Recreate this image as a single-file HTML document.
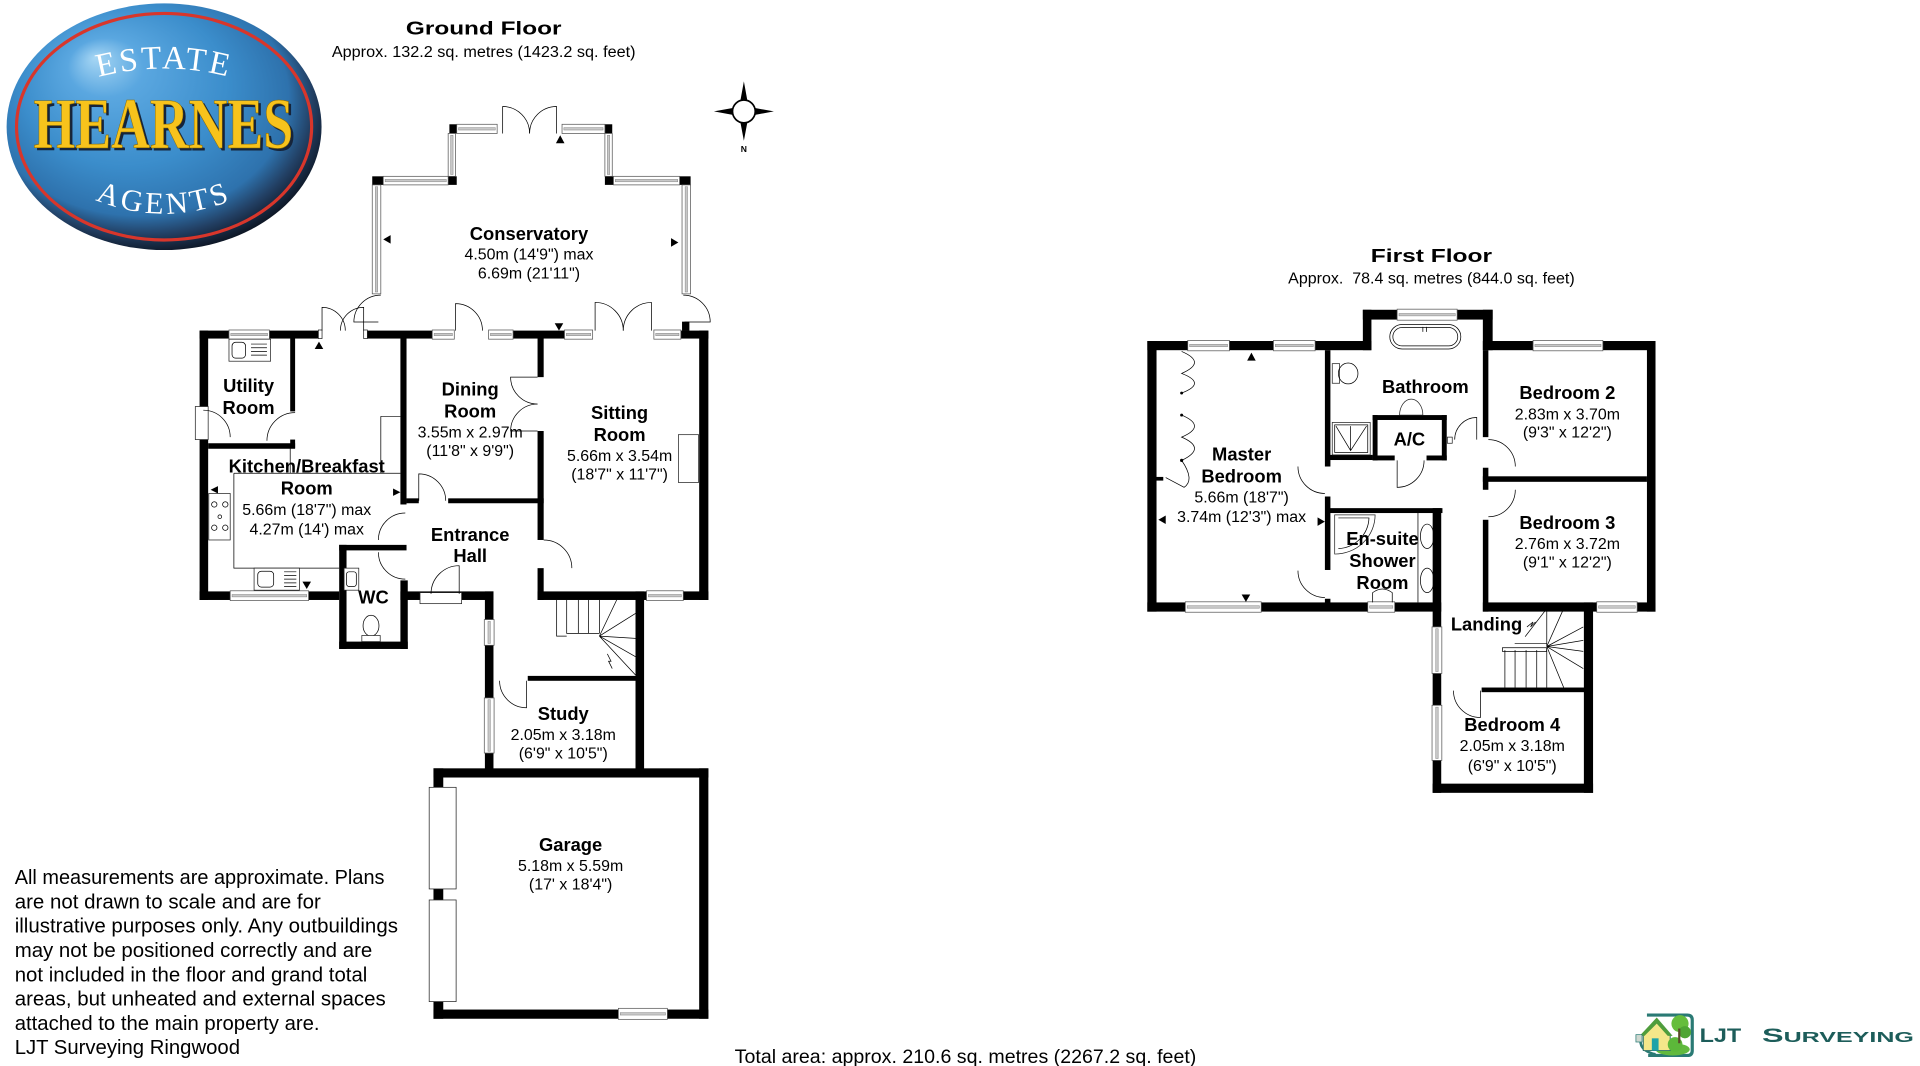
<!DOCTYPE html>
<html><head><meta charset="utf-8">
<style>
html,body{margin:0;padding:0;background:#fff;}
svg{display:block}
.wl{fill:#000}
.w{fill:#fff;stroke:#555;stroke-width:.6}
.wi{fill:#c8c8c8;stroke:#777;stroke-width:.35}
.d{fill:none;stroke:#000;stroke-width:.6}
.f{fill:#fff;stroke:#222;stroke-width:.6}
.l{font-family:"Liberation Sans",Arial,sans-serif;font-weight:bold;font-size:15px;text-anchor:middle;fill:#000}
.m{font-family:"Liberation Sans",Arial,sans-serif;font-size:13px;text-anchor:middle;fill:#000}
.t{font-family:"Liberation Sans",Arial,sans-serif;font-size:16.4px;fill:#000}
</style></head><body>
<svg width="1920" height="1066" viewBox="0 0 1568 870.6" preserveAspectRatio="none" xmlns="http://www.w3.org/2000/svg">
<defs>
<radialGradient id="gb" cx="0.45" cy="0.42" r="0.6" fx="0.28" fy="0.22">
 <stop offset="0" stop-color="#a6d6f4"/>
 <stop offset="0.2" stop-color="#5aa7e0"/>
 <stop offset="0.55" stop-color="#3b8dcb"/>
 <stop offset="0.8" stop-color="#2e72ad"/>
 <stop offset="0.9" stop-color="#223f63"/>
 <stop offset="1" stop-color="#0c1320"/>
</radialGradient>
<path id="pe" d="M70 66 A210 210 0 0 1 198 66"/>
<path id="pa" d="M70 159.5 A144 144 0 0 0 198 159.5"/>
</defs>
<rect width="1568" height="870.6" fill="#fff"/>

<!-- HEARNES LOGO -->
<ellipse cx="134" cy="103.5" rx="128.6" ry="100.7" fill="url(#gb)"/>
<ellipse cx="134" cy="103.5" rx="120.5" ry="92.5" fill="none" stroke="#d8362b" stroke-width="2.6"/>
<text font-family="'Liberation Serif',serif" font-size="27" fill="#fff" letter-spacing="2.2" text-anchor="middle"><textPath href="#pe" startOffset="50%">ESTATE</textPath></text>
<text x="135.5" y="123" font-family="'Liberation Serif',serif" font-weight="bold" font-size="59" textLength="212" lengthAdjust="spacingAndGlyphs" text-anchor="middle" fill="#16243a">HEARNES</text>
<text x="133.4" y="121" font-family="'Liberation Serif',serif" font-weight="bold" font-size="59" textLength="212" lengthAdjust="spacingAndGlyphs" text-anchor="middle" fill="#f7c31c" stroke="#8a6a00" stroke-width="0.5">HEARNES</text>
<text font-family="'Liberation Serif',serif" font-size="25" fill="#fff" letter-spacing="2.8" text-anchor="middle"><textPath href="#pa" startOffset="50%">AGENTS</textPath></text>

<!-- TITLES -->
<text x="395" y="28" class="l" font-size="19.5" textLength="127" lengthAdjust="spacingAndGlyphs">Ground Floor</text>
<text x="395" y="46.5" class="m" font-size="13.2" textLength="248" lengthAdjust="spacingAndGlyphs">Approx. 132.2 sq. metres (1423.2 sq. feet)</text>
<text x="1169" y="214" class="l" font-size="19.5" textLength="99" lengthAdjust="spacingAndGlyphs">First Floor</text>
<text x="1169" y="231.5" class="m" font-size="13.2" textLength="234" lengthAdjust="spacingAndGlyphs">Approx.&#160; 78.4 sq. metres (844.0 sq. feet)</text>

<!-- COMPASS -->
<g transform="translate(607.5,91)">
 <polygon points="0,-24.5 -3,-8 0,-9 3,-8" fill="#000"/>
 <polygon points="0,24 -3,8 0,9 3,8" fill="#000"/>
 <polygon points="24.5,0 8,-3 9,0 8,3" fill="#000"/>
 <polygon points="-24.5,0 -8,-3 -9,0 -8,3" fill="#000"/>
 <circle r="9.3" fill="#fff" stroke="#000" stroke-width="1.4"/>
</g>
<text x="607.5" y="124" font-family="'Liberation Sans',sans-serif" font-weight="bold" font-size="7" text-anchor="middle">N</text>

<!-- ===== GROUND FLOOR ===== -->
<g class="wl">
<rect x="367" y="101.5" width="6" height="7.5"/>
<rect x="494" y="101.5" width="6" height="7.5"/>
<rect x="304" y="144" width="9" height="7"/>
<rect x="366" y="144" width="7" height="7"/>
<rect x="494" y="144" width="7" height="7"/>
<rect x="555" y="144" width="9" height="7"/>
<rect x="557" y="262.7" width="6" height="7.5"/>
</g>
<rect class="w" x="373" y="101.5" width="33" height="7.5"/><rect class="wi" x="374.5" y="104.2" width="30" height="2"/>
<rect class="w" x="459" y="101.5" width="35" height="7.5"/><rect class="wi" x="460.5" y="104.2" width="32" height="2"/>
<rect class="w" x="313" y="144" width="53" height="7"/><rect class="wi" x="314.5" y="146.5" width="50" height="2"/>
<rect class="w" x="501" y="144" width="54" height="7"/><rect class="wi" x="502.5" y="146.5" width="51" height="2"/>
<rect class="w" x="366" y="109" width="6" height="35"/><rect class="wi" x="368" y="110.5" width="2" height="32"/>
<rect class="w" x="494" y="109" width="6" height="35"/><rect class="wi" x="496" y="110.5" width="2" height="32"/>
<rect class="w" x="304" y="151" width="7" height="89"/><rect class="wi" x="306.5" y="152.5" width="2" height="86"/>
<rect class="w" x="557" y="151" width="7" height="89"/><rect class="wi" x="559.5" y="152.5" width="2" height="86"/>
<path class="d" d="M410.5 109 L410.5 87 A22 22 0 0 1 432.5 109"/>
<path class="d" d="M454.5 109 L454.5 87 A22 22 0 0 0 432.5 109"/>
<path class="d" d="M311 241 A22 22 0 0 0 289 263 L309 263"/>
<path class="d" d="M558 241 A22 22 0 0 1 580 263 L559 263"/>

<g class="wl">
<rect x="163" y="270" width="97" height="6.5"/>
<rect x="300" y="270" width="53" height="6.5"/>
<rect x="419" y="270" width="42" height="6.5"/>
<rect x="556" y="270" width="22.5" height="6.5"/>
<rect x="163" y="270" width="7" height="220"/>
<rect x="163" y="483" width="114" height="7"/>
<rect x="237" y="276" width="4" height="60"/>
<rect x="170" y="362" width="71" height="4.5"/>
<rect x="237" y="359" width="4" height="7"/>
<rect x="327" y="276" width="5" height="136"/>
<rect x="277" y="445" width="55" height="4.5"/>
<rect x="277" y="445" width="6" height="85"/>
<rect x="277" y="524" width="56" height="6"/>
<rect x="327" y="474" width="6" height="56"/>
<rect x="327" y="483" width="76" height="7"/>
<rect x="396" y="483" width="7" height="150"/>
<rect x="332" y="407" width="10" height="4"/>
<rect x="366" y="407" width="78" height="4"/>
<rect x="439" y="276" width="5" height="32"/>
<rect x="439" y="352" width="5" height="89"/>
<rect x="439" y="464" width="5" height="26"/>
<rect x="571" y="270" width="7.5" height="220"/>
<rect x="439" y="483" width="139.5" height="7"/>
<rect x="519" y="483" width="7" height="150"/>
<rect x="431" y="552" width="90" height="4"/>
<rect x="354" y="627.5" width="224.5" height="7.5"/>
<rect x="354" y="627.5" width="8" height="204.5"/>
<rect x="571" y="627.5" width="7.5" height="204.5"/>
<rect x="354" y="824.5" width="224.5" height="7.5"/>
</g>
<rect class="w" x="187" y="269.5" width="33" height="7.5"/><rect class="wi" x="188.5" y="272.2" width="30" height="2"/>
<rect class="w" x="353" y="269.5" width="18" height="7.5"/><rect class="wi" x="354.5" y="272.2" width="15" height="2"/>
<rect class="w" x="399" y="269.5" width="20" height="7.5"/><rect class="wi" x="400.5" y="272.2" width="17" height="2"/>
<rect class="w" x="461" y="269.5" width="23" height="7.5"/><rect class="wi" x="462.5" y="272.2" width="20" height="2"/>
<rect class="w" x="534" y="269.5" width="22" height="7.5"/><rect class="wi" x="535.5" y="272.2" width="19" height="2"/>
<rect class="w" x="188" y="482.5" width="64" height="8"/><rect class="wi" x="189.5" y="485.5" width="61" height="2"/>
<rect class="w" x="528" y="482.5" width="30" height="8"/><rect class="wi" x="529.5" y="485.5" width="27" height="2"/>
<rect class="w" x="395.5" y="506" width="8" height="21"/><rect class="wi" x="398.5" y="507.5" width="2" height="18"/>
<rect class="w" x="395.5" y="570" width="8" height="45"/><rect class="wi" x="398.5" y="571.5" width="2" height="42"/>
<rect class="w" x="505" y="823.5" width="40" height="9"/><rect class="wi" x="506.5" y="827" width="37" height="2"/>
<rect class="f" x="350.5" y="643" width="22" height="83"/>
<rect class="f" x="350.5" y="735" width="22" height="83"/>
<rect class="f" x="343" y="484" width="34" height="9"/>
<rect class="f" x="159.5" y="332" width="10.5" height="27"/>
<rect class="f" x="260" y="269.5" width="3" height="7"/>
<rect class="f" x="297" y="269.5" width="3" height="7"/>
<rect class="f" x="554" y="355" width="16.5" height="39"/>

<path class="d" d="M263 270 L263 251 A19 19 0 0 1 282 270"/>
<path class="d" d="M297 270 L297 251 A19 19 0 0 0 278 270"/>
<path class="d" d="M372 270 L372 248 A22 22 0 0 1 394 270"/>
<path class="d" d="M486 270 L486 247 A23 23 0 0 1 509 270"/>
<path class="d" d="M532 270 L532 247 A23 23 0 0 0 509 270"/>
<path class="d" d="M166 335 A22 22 0 0 1 188 357"/>
<path class="d" d="M241 337 A23 23 0 0 0 218 360"/>
<path class="d" d="M331 419 A22 22 0 0 0 309 441"/>
<path class="d" d="M309 451 A22 22 0 0 0 331 473"/>
<path class="d" d="M342 409 L342 387 A22 22 0 0 1 364 409"/>
<path class="d" d="M439 308 L417 308 A22 22 0 0 0 439 330"/>
<path class="d" d="M439 352 L417 352 A22 22 0 0 1 439 330"/>
<path class="d" d="M444 441 A23 23 0 0 1 467 464"/>
<path class="d" d="M375 485 L375 462 A23 23 0 0 0 352 485"/>
<path class="d" d="M408 556 A22 22 0 0 0 430 578 L430 556"/>

<path class="d" d="M191 386.5 V464 H277"/>
<path class="d" d="M191 386.5 H327"/>
<path class="d" d="M237 366 V386.5"/>
<path class="d" d="M311 340 V386.5 M311 340 H327"/>
<rect class="f" x="170.5" y="403" width="17.5" height="38"/>
<g class="d"><circle cx="175" cy="412" r="2.2"/><circle cx="184" cy="412" r="2.2"/><circle cx="179.5" cy="422" r="1.5"/><circle cx="175" cy="431" r="2.2"/><circle cx="184" cy="431" r="2.2"/></g>
<rect class="f" x="207.5" y="464" width="37" height="18"/>
<rect class="d" x="210.5" y="466.5" width="13" height="13" rx="3"/>
<path class="d" d="M232 467 H242 M232 470 H242 M232 473 H242 M232 476 H242 M232 479 H242"/>
<rect class="f" x="187" y="277" width="34" height="18"/>
<rect class="d" x="189.5" y="279.5" width="11" height="13" rx="3"/>
<path class="d" d="M205 281 H218 M205 284 H218 M205 287 H218 M205 290 H218"/>
<rect class="f" x="281" y="464" width="12" height="18"/>
<rect class="d" x="283" y="467" width="8" height="12" rx="2"/>
<ellipse class="d" cx="303" cy="511" rx="6.5" ry="8.5"/>
<rect class="f" x="295.5" y="519" width="15" height="5"/>
<path class="d" d="M454.6 490 V519.5 H462.8 M462.8 490 V517.3 H489.5 M472.3 490 V517.3 M480.5 490 V517.3 M489.5 490 V517.3"/>
<path class="d" d="M489.5 519.5 L503.6 490 M489.5 519.5 L519 501 M489.5 519.5 L519 521.4 M489.5 519.5 L519 536.3 M489.5 519.5 L519 551.3"/>
<path class="d" d="M496 534 L499 540 L497 540 L500 546"/>

<g fill="#000">
<polygon points="257,285 264,285 260.5,279"/>
<polygon points="453,264 460,264 456.5,270"/>
<polygon points="454,117 461,117 457.5,110.5"/>
<polygon points="319,192 319,199 313,195.5"/>
<polygon points="548,194.5 548,201.5 554,198"/>
<polygon points="178,397 178,403 172,400"/>
<polygon points="321,399 321,405 327,402"/>
<polygon points="247,475 254,475 250.5,481"/>
</g>

<text class="l" x="432" y="196">Conservatory</text>
<text class="m" x="432" y="212">4.50m (14'9") max</text>
<text class="m" x="432" y="227.5">6.69m (21'11")</text>
<text class="l" x="203" y="320">Utility</text>
<text class="l" x="203" y="338">Room</text>
<text class="l" x="384" y="323">Dining</text>
<text class="l" x="384" y="341">Room</text>
<text class="m" x="384" y="357.5">3.55m x 2.97m</text>
<text class="m" x="384" y="372.5">(11'8" x 9'9")</text>
<text class="l" x="506" y="342">Sitting</text>
<text class="l" x="506" y="360">Room</text>
<text class="m" x="506" y="376.5">5.66m x 3.54m</text>
<text class="m" x="506" y="391.5">(18'7" x 11'7")</text>
<text class="l" x="250.5" y="386">Kitchen/Breakfast</text>
<text class="l" x="250.5" y="404">Room</text>
<text class="m" x="250.5" y="420.5">5.66m (18'7") max</text>
<text class="m" x="250.5" y="436.5">4.27m (14') max</text>
<text class="l" x="384" y="442">Entrance</text>
<text class="l" x="384" y="459">Hall</text>
<text class="l" x="305" y="493">WC</text>
<text class="l" x="460" y="588">Study</text>
<text class="m" x="460" y="604.5">2.05m x 3.18m</text>
<text class="m" x="460" y="619.5">(6'9" x 10'5")</text>
<text class="l" x="466" y="695">Garage</text>
<text class="m" x="466" y="711.5">5.18m x 5.59m</text>
<text class="m" x="466" y="726.5">(17' x 18'4")</text>

<!-- ===== FIRST FLOOR ===== -->
<g class="wl">
<rect x="937" y="278.5" width="183" height="7.5"/>
<rect x="1113" y="253" width="7" height="33"/>
<rect x="1113" y="253" width="106" height="8"/>
<rect x="1211" y="253" width="8" height="33"/>
<rect x="1211" y="278.5" width="141" height="7.5"/>
<rect x="1345" y="278.5" width="7" height="221"/>
<rect x="937" y="278.5" width="7.5" height="221"/>
<rect x="937" y="492" width="240" height="7.5"/>
<rect x="1211" y="492" width="141" height="7.5"/>
<rect x="1211" y="389" width="134" height="4.5"/>
<rect x="1211" y="286" width="4.5" height="71"/>
<rect x="1211" y="382" width="4.5" height="18"/>
<rect x="1211" y="424.5" width="4.5" height="75"/>
<rect x="1082" y="286" width="4.5" height="95"/>
<rect x="1082" y="405.5" width="4.5" height="60"/>
<rect x="1082" y="489" width="4.5" height="10"/>
<rect x="1086" y="371.5" width="35" height="4.2"/>
<rect x="1121" y="339" width="60.5" height="4"/>
<rect x="1121" y="339" width="4" height="37"/>
<rect x="1177.5" y="339" width="4" height="37"/>
<rect x="1121" y="372" width="18" height="4"/>
<rect x="1165" y="372" width="16.5" height="4"/>
<rect x="1086" y="415" width="92" height="4"/>
<rect x="1170" y="415" width="7" height="232.5"/>
<rect x="1170" y="640" width="131" height="7.5"/>
<rect x="1293.5" y="492" width="7.5" height="155.5"/>
<rect x="1210" y="561.5" width="84" height="3.8"/>
<rect x="944" y="389.5" width="6" height="3"/>
</g>
<rect class="w" x="970" y="278" width="34" height="8.5"/><rect class="wi" x="971.5" y="281.2" width="31" height="2"/>
<rect class="w" x="1040" y="278" width="34" height="8.5"/><rect class="wi" x="1041.5" y="281.2" width="31" height="2"/>
<rect class="w" x="1252" y="278" width="57" height="8.5"/><rect class="wi" x="1253.5" y="281.2" width="54" height="2"/>
<rect class="w" x="1141" y="252.5" width="49" height="9"/><rect class="wi" x="1142.5" y="256" width="46" height="2"/>
<rect class="w" x="968" y="491.5" width="62" height="8.5"/><rect class="wi" x="969.5" y="494.7" width="59" height="2"/>
<rect class="w" x="1117" y="491.5" width="22" height="8.5"/><rect class="wi" x="1118.5" y="494.7" width="19" height="2"/>
<rect class="w" x="1304" y="491.5" width="33" height="8.5"/><rect class="wi" x="1305.5" y="494.7" width="30" height="2"/>
<rect class="w" x="1169.5" y="512" width="8" height="38"/><rect class="wi" x="1172.5" y="513.5" width="2" height="35"/>
<rect class="w" x="1169.5" y="576" width="8" height="45"/><rect class="wi" x="1172.5" y="577.5" width="2" height="42"/>

<path class="d" d="M1206 359 L1206 341 A18 18 0 0 0 1188 359"/>
<rect class="f" x="1182" y="357" width="4" height="5"/>
<path class="d" d="M1141 376 L1141 398 A22 22 0 0 0 1163 376"/>
<path class="d" d="M1215.5 359 A22 22 0 0 1 1237.5 381"/>
<path class="d" d="M1237.5 400 A22 22 0 0 1 1215.5 422"/>
<path class="d" d="M1060 381 A22 22 0 0 0 1082 403"/>
<path class="d" d="M1060 466 A22 22 0 0 0 1082 488"/>
<path class="d" d="M1187 564 A22 22 0 0 0 1209 586 L1209 564"/>
<path class="d" d="M965 287 Q986 296 965 305 Q986 313 965 321 M965 339 Q986 348 965 357 Q986 366 965 376 M965 376 Q976 392 967 398 L952 390"/>
<g fill="#000"><circle cx="965" cy="321" r="1.2"/><circle cx="965" cy="339" r="1.2"/><circle cx="965" cy="376" r="1.3"/></g>

<rect class="d" x="1135" y="265" width="58" height="20" rx="10"/>
<rect class="d" x="1137.5" y="267.5" width="53" height="15" rx="7.5"/>
<path class="d" d="M1162 267 V271 M1165 267 V271"/>
<rect class="f" x="1088" y="297" width="6" height="16"/>
<ellipse class="d" cx="1101" cy="305" rx="8" ry="8.5"/>
<path class="f" d="M1143 339 A9.5 13 0 0 1 1162 339 Z"/>
<rect class="f" x="1088" y="345" width="31" height="26.5"/>
<rect class="d" x="1090" y="347" width="27" height="22.5"/>
<path class="d" d="M1091 348 L1103 368 L1116 348 M1103 348 V368"/>
<path class="f" d="M1090 420.5 H1123 A33 32 0 0 1 1090 452.5 Z"/>
<path class="d" d="M1093 423 H1118 A26 26 0 0 1 1093 448"/>
<path class="d" d="M1158 419 V492"/>
<ellipse class="d" cx="1165.5" cy="438" rx="5.5" ry="10"/>
<ellipse class="d" cx="1165.5" cy="474" rx="5.5" ry="10"/>
<path class="d" d="M1121 492 V484 Q1129 478 1137 484 V492"/>
<path class="d" d="M1229 531 V561.5 M1237.3 531 V561.5 M1246.3 531 V561.5 M1255 531 V561.5 M1263.2 531 V561.5"/>
<rect class="d" x="1227" y="529" width="36" height="3"/>
<path class="d" d="M1237 525.5 H1263 M1245.5 520 L1263.2 497"/>
<path class="d" d="M1263.2 528 L1263.2 497 M1263.2 528 L1277 497 M1263.2 528 L1293 512 M1263.2 528 L1293 523 M1263.2 528 L1293 532 M1263.2 528 L1293 546 M1263.2 528 L1277 561.5"/>
<path class="d" d="M1247 512 L1252 508 L1250 512 L1254 508"/>

<g fill="#000">
<polygon points="1018.5,294.5 1025.5,294.5 1022,288"/>
<polygon points="1014,485.5 1021,485.5 1017.5,491.5"/>
<polygon points="952,421 952,428 946,424.5"/>
<polygon points="1076,422.5 1076,429.5 1082,426"/>
</g>

<text class="l" x="1014" y="376">Master</text>
<text class="l" x="1014" y="394">Bedroom</text>
<text class="m" x="1014" y="410.5">5.66m (18'7")</text>
<text class="m" x="1014" y="426.5">3.74m (12'3") max</text>
<text class="l" x="1164" y="321">Bathroom</text>
<text class="l" x="1151" y="364">A/C</text>
<text class="l" x="1280" y="326">Bedroom 2</text>
<text class="m" x="1280" y="342.5">2.83m x 3.70m</text>
<text class="m" x="1280" y="357.5">(9'3" x 12'2")</text>
<text class="l" x="1280" y="432">Bedroom 3</text>
<text class="m" x="1280" y="448.5">2.76m x 3.72m</text>
<text class="m" x="1280" y="463.5">(9'1" x 12'2")</text>
<text class="l" x="1129" y="445">En-suite</text>
<text class="l" x="1129" y="463">Shower</text>
<text class="l" x="1129" y="481">Room</text>
<text class="l" x="1214" y="515">Landing</text>
<text class="l" x="1235" y="597">Bedroom 4</text>
<text class="m" x="1235" y="613.5">2.05m x 3.18m</text>
<text class="m" x="1235" y="629.5">(6'9" x 10'5")</text>

<!-- DISCLAIMER -->
<text class="t" x="12" y="722" textLength="302" lengthAdjust="spacingAndGlyphs">All measurements are approximate. Plans</text>
<text class="t" x="12" y="741.9" textLength="250" lengthAdjust="spacingAndGlyphs">are not drawn to scale and are for</text>
<text class="t" x="12" y="761.7" textLength="313" lengthAdjust="spacingAndGlyphs">illustrative purposes only.  Any outbuildings</text>
<text class="t" x="12" y="781.6" textLength="292" lengthAdjust="spacingAndGlyphs">may not be positioned correctly and are</text>
<text class="t" x="12" y="801.4" textLength="288" lengthAdjust="spacingAndGlyphs">not included in the floor and grand total</text>
<text class="t" x="12" y="821.3" textLength="303" lengthAdjust="spacingAndGlyphs">areas, but unheated and external spaces</text>
<text class="t" x="12" y="841.1" textLength="249" lengthAdjust="spacingAndGlyphs">attached to the main property are.</text>
<text class="t" x="12" y="861" textLength="184" lengthAdjust="spacingAndGlyphs">LJT Surveying Ringwood</text>

<text x="600" y="868" font-family="'Liberation Sans',Arial,sans-serif" font-size="15.5" textLength="377" lengthAdjust="spacingAndGlyphs">Total area: approx. 210.6 sq. metres (2267.2 sq. feet)</text>

<!-- LJT LOGO -->
<g>
 <path d="M1345 829 H1378 Q1382 829 1382 833 V858 Q1382 862 1378 862 H1346" fill="none" stroke="#2a7a74" stroke-width="2.6"/>
 <path d="M1340 848 Q1338 858 1352 861" fill="none" stroke="#2a7a74" stroke-width="2"/>
 <ellipse cx="1366" cy="857" rx="14" ry="5" fill="#62b93e"/>
 <polygon points="1342,845 1353,834 1364,845 1364,858 1342,858" fill="#f4e78a" stroke="#2c6e6a" stroke-width="0.8"/>
 <polygon points="1339,846 1353,831 1366,846 1362,846 1353,836 1343,846" fill="#4f9d3c"/>
 <rect x="1349" y="848" width="5.5" height="10" fill="#1ea3a8"/>
 <rect x="1336" y="845" width="5" height="6" fill="#cfd8d0" stroke="#2a7a74" stroke-width="0.6"/>
 <circle cx="1372" cy="836" r="7" fill="#66bd3c"/>
 <circle cx="1376" cy="843" r="5" fill="#4fa534"/>
 <circle cx="1368" cy="853" r="6" fill="#5cb83a"/>
 <rect x="1370.5" y="840" width="1.8" height="12" fill="#5a4a2a"/>
</g>
<text x="1388" y="851" font-family="'Liberation Sans',Arial,sans-serif" font-weight="bold" font-size="15.5" fill="#1d5d5a" textLength="34" lengthAdjust="spacingAndGlyphs">LJT</text>
<text x="1439" y="851" font-family="'Liberation Sans',Arial,sans-serif" font-weight="bold" fill="#1d5d5a" textLength="124" lengthAdjust="spacingAndGlyphs"><tspan font-size="15.5">S</tspan><tspan font-size="12">URVEYING</tspan></text>
</svg>
</body></html>
